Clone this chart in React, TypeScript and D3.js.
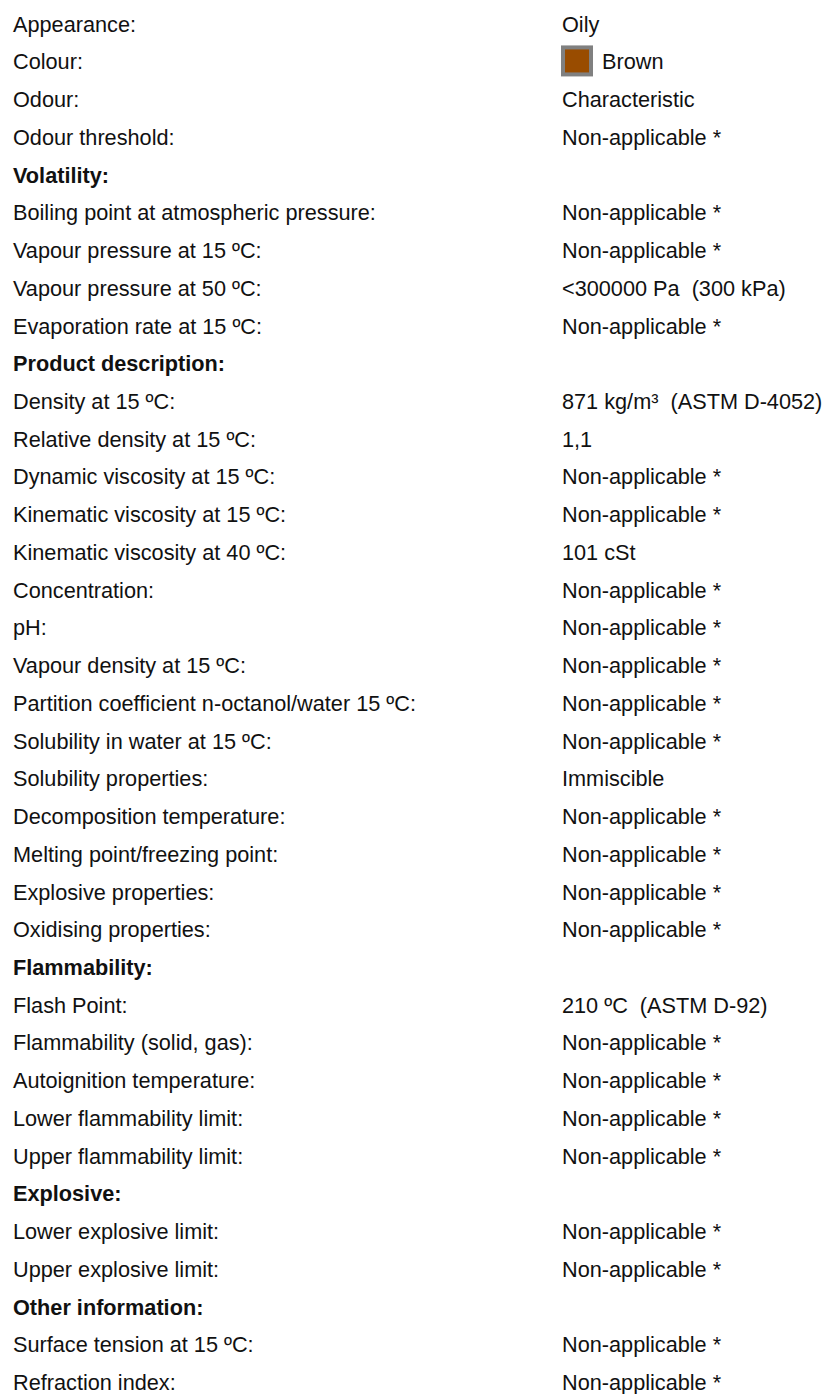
import React from "react";
import * as d3 from "d3";

const labels: string[] = [
  "Appearance:",
  "Colour:",
  "Odour:",
  "Odour threshold:",
  "Volatility:",
  "Boiling point at atmospheric pressure:",
  "Vapour pressure at 15 ºC:",
  "Vapour pressure at 50 ºC:",
  "Evaporation rate at 15 ºC:",
  "Product description:",
  "Density at 15 ºC:",
  "Relative density at 15 ºC:",
  "Dynamic viscosity at 15 ºC:",
  "Kinematic viscosity at 15 ºC:",
  "Kinematic viscosity at 40 ºC:",
  "Concentration:",
  "pH:",
  "Vapour density at 15 ºC:",
  "Partition coefficient n-octanol/water 15 ºC:",
  "Solubility in water at 15 ºC:",
  "Solubility properties:",
  "Decomposition temperature:",
  "Melting point/freezing point:",
  "Explosive properties:",
  "Oxidising properties:",
  "Flammability:",
  "Flash Point:",
  "Flammability (solid, gas):",
  "Autoignition temperature:",
  "Lower flammability limit:",
  "Upper flammability limit:",
  "Explosive:",
  "Lower explosive limit:",
  "Upper explosive limit:",
  "Other information:",
  "Surface tension at 15 ºC:",
  "Refraction index:",
];

const NA = "Non-applicable *";
const values: string[] = [
  "Oily",
  "Brown",
  "Characteristic",
  NA,
  "",
  NA,
  NA,
  "<300000 Pa  (300 kPa)",
  NA,
  "",
  "871 kg/m³  (ASTM D-4052)",
  "1,1",
  NA,
  NA,
  "101 cSt",
  NA,
  NA,
  NA,
  NA,
  NA,
  "Immiscible",
  NA,
  NA,
  NA,
  NA,
  "",
  "210 ºC  (ASTM D-92)",
  NA,
  NA,
  NA,
  NA,
  "",
  NA,
  NA,
  "",
  NA,
  NA,
];

const headerRows: string[] = [
  "Volatility:",
  "Product description:",
  "Flammability:",
  "Explosive:",
  "Other information:",
];

const swatchRow = "Colour:";
const swatchColor = "#994c00";

const W = 828;
const H = 1394;

export default function App() {
  const y = d3.scaleLinear().domain([0, labels.length - 1]).range([31.7, 1390]);
  const labelX = 13;
  const valueX = 562;
  const fontFamily = "'Liberation Sans', Arial, sans-serif";
  const fs = 21.7;

  return (
    <svg
      width={W}
      height={H}
      style={{ position: "absolute", left: 0, top: 0, background: "#fff" }}
      fontFamily={fontFamily}
      fontSize={fs}
    >
      {labels.map((lab, i) => {
        const isHeader = headerRows.includes(lab);
        const isSwatch = lab === swatchRow;
        const yy = y(i);
        return (
          <g key={i}>
            <text
              x={labelX}
              y={yy}
              fill="#111"
              fontWeight={isHeader ? "bold" : "normal"}
              style={{ whiteSpace: "pre" }}
            >
              {lab}
            </text>
            {isSwatch && (
              <rect
                x={563}
                y={yy - 22}
                width={28}
                height={27}
                fill={swatchColor}
                stroke="#808080"
                strokeWidth={4}
              />
            )}
            {values[i] && (
              <text
                x={isSwatch ? 602 : valueX}
                y={yy}
                fill="#111"
                style={{ whiteSpace: "pre" }}
              >
                {values[i]}
              </text>
            )}
          </g>
        );
      })}
    </svg>
  );
}
